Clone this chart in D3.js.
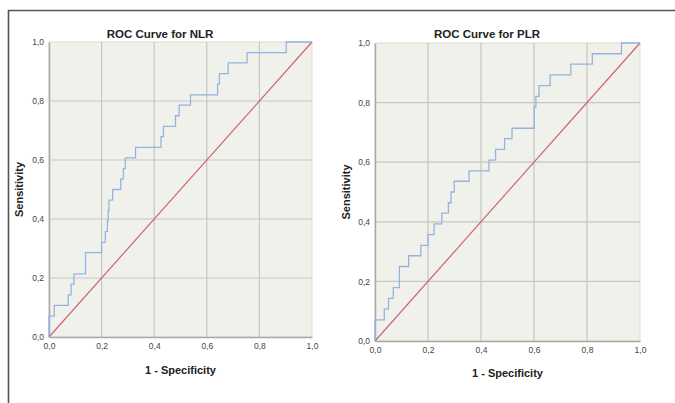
<!DOCTYPE html>
<html>
<head>
<meta charset="utf-8">
<script src="https://cdn.jsdelivr.net/npm/d3@7"></script>
<style>
  body { margin: 0; background: #fff; }
  svg { display: block; font-family: "Liberation Sans", Arial, sans-serif; }
</style>
</head>
<body>
<div id="chart"></div>
<script>
// ROC corner points (1 - specificity, sensitivity)
var nlrFpr = [0, 0, 0.020, 0.073, 0.084, 0.095, 0.139, 0.200, 0.214, 0.222, 0.225, 0.228, 0.232, 0.242, 0.273, 0.283, 0.290, 0.329, 0.426, 0.435, 0.481, 0.495, 0.538, 0.641, 0.648, 0.681, 0.753, 0.902, 1.0];
var nlrTpr = [0, 0.071, 0.107, 0.143, 0.179, 0.214, 0.286, 0.321, 0.357, 0.393, 0.429, 0.464, 0.464, 0.500, 0.536, 0.571, 0.607, 0.643, 0.679, 0.714, 0.750, 0.786, 0.821, 0.857, 0.893, 0.929, 0.964, 1.0, 1.0];

var plrFpr = [0, 0, 0.035, 0.051, 0.069, 0.092, 0.127, 0.173, 0.200, 0.223, 0.252, 0.277, 0.287, 0.299, 0.355, 0.430, 0.455, 0.489, 0.517, 0.601, 0.607, 0.619, 0.661, 0.739, 0.820, 0.930, 1.0];
var plrTpr = [0, 0.071, 0.107, 0.143, 0.179, 0.250, 0.286, 0.321, 0.357, 0.393, 0.429, 0.464, 0.500, 0.536, 0.571, 0.607, 0.643, 0.679, 0.714, 0.786, 0.821, 0.857, 0.893, 0.929, 0.964, 1.0, 1.0];

var tickValues = [0, 0.2, 0.4, 0.6, 0.8, 1.0];
var tickLabels = ["0,0", "0,2", "0,4", "0,6", "0,8", "1,0"];

var panels = [
  {title: "ROC Curve for NLR", fpr: nlrFpr, tpr: nlrTpr, x0: 49, x1: 312, y0: 42, y1: 337, titleX: 160, yLabelX: 19, xLabelY: 374},
  {title: "ROC Curve for PLR", fpr: plrFpr, tpr: plrTpr, x0: 375, x1: 640, y0: 43, y1: 341, titleX: 487, yLabelX: 346, xLabelY: 377}
];

var W = 675, H = 403;
var svg = d3.select("#chart").append("svg")
  .attr("width", W)
  .attr("height", H);

// outer frame (top + left only)
svg.append("path")
  .attr("d", "M8.5," + H + "V10.5H" + W)
  .attr("fill", "none")
  .attr("stroke", "#555")
  .attr("stroke-width", 1.6);

panels.forEach(function(p) {
  var x = d3.scaleLinear().domain([0, 1]).range([p.x0, p.x1]);
  var y = d3.scaleLinear().domain([0, 1]).range([p.y1, p.y0]);
  var g = svg.append("g");

  g.append("rect")
    .attr("x", p.x0).attr("y", p.y0)
    .attr("width", p.x1 - p.x0).attr("height", p.y1 - p.y0)
    .attr("fill", "#f1f1ec")
    .attr("stroke", "#dcdcd6");

  // grid
  g.selectAll(".vgrid").data(tickValues.slice(1, 5)).enter().append("line")
    .attr("x1", d => x(d)).attr("x2", d => x(d))
    .attr("y1", p.y0).attr("y2", p.y1)
    .attr("stroke", "#c6c6c2").attr("stroke-width", 1.2);
  g.selectAll(".hgrid").data(tickValues.slice(1, 5)).enter().append("line")
    .attr("y1", d => y(d)).attr("y2", d => y(d))
    .attr("x1", p.x0).attr("x2", p.x1)
    .attr("stroke", "#c6c6c2").attr("stroke-width", 1.2);

  // axes
  var xAxis = d3.axisBottom(x).tickValues(tickValues)
    .tickFormat((d, i) => tickLabels[i]).tickSize(0).tickPadding(6);
  var yAxis = d3.axisLeft(y).tickValues(tickValues)
    .tickFormat((d, i) => tickLabels[i]).tickSize(0).tickPadding(5);

  var gx = g.append("g").attr("transform", "translate(0," + p.y1 + ")").call(xAxis);
  var gy = g.append("g").attr("transform", "translate(" + p.x0 + ",0)").call(yAxis);
  [gx, gy].forEach(function(a) {
    a.select(".domain").attr("stroke", "#a9a9a5").attr("stroke-width", 1.5);
    a.selectAll("text").attr("font-size", 8.5).attr("fill", "#444")
      .attr("font-family", "\"Liberation Sans\", Arial, sans-serif");
  });

  // reference diagonal
  g.append("line")
    .attr("x1", x(0)).attr("y1", y(0))
    .attr("x2", x(1)).attr("y2", y(1))
    .attr("stroke", "#d0607a").attr("stroke-width", 1.2);

  // ROC curve
  var pts = p.fpr.map((f, i) => [f, p.tpr[i]]);
  var line = d3.line().x(d => x(d[0])).y(d => y(d[1])).curve(d3.curveStepAfter);
  g.append("path")
    .datum(pts)
    .attr("d", line)
    .attr("fill", "none")
    .attr("stroke", "#94b4e0")
    .attr("stroke-width", 1.3);

  // titles
  g.append("text")
    .attr("x", p.titleX).attr("y", 38)
    .attr("text-anchor", "middle")
    .attr("font-size", 11.5).attr("font-weight", "bold").attr("fill", "#222")
    .text(p.title);

  g.append("text")
    .attr("x", (p.x0 + p.x1) / 2).attr("y", p.xLabelY)
    .attr("text-anchor", "middle")
    .attr("font-size", 11).attr("font-weight", "bold").attr("fill", "#222")
    .text("1 - Specificity");

  g.append("text")
    .attr("transform", "translate(" + p.yLabelX + "," + ((p.y0 + p.y1) / 2) + ") rotate(-90)")
    .attr("text-anchor", "middle")
    .attr("dy", "0.35em")
    .attr("font-size", 11).attr("font-weight", "bold").attr("fill", "#222")
    .text("Sensitivity");
});
</script>
</body>
</html>
